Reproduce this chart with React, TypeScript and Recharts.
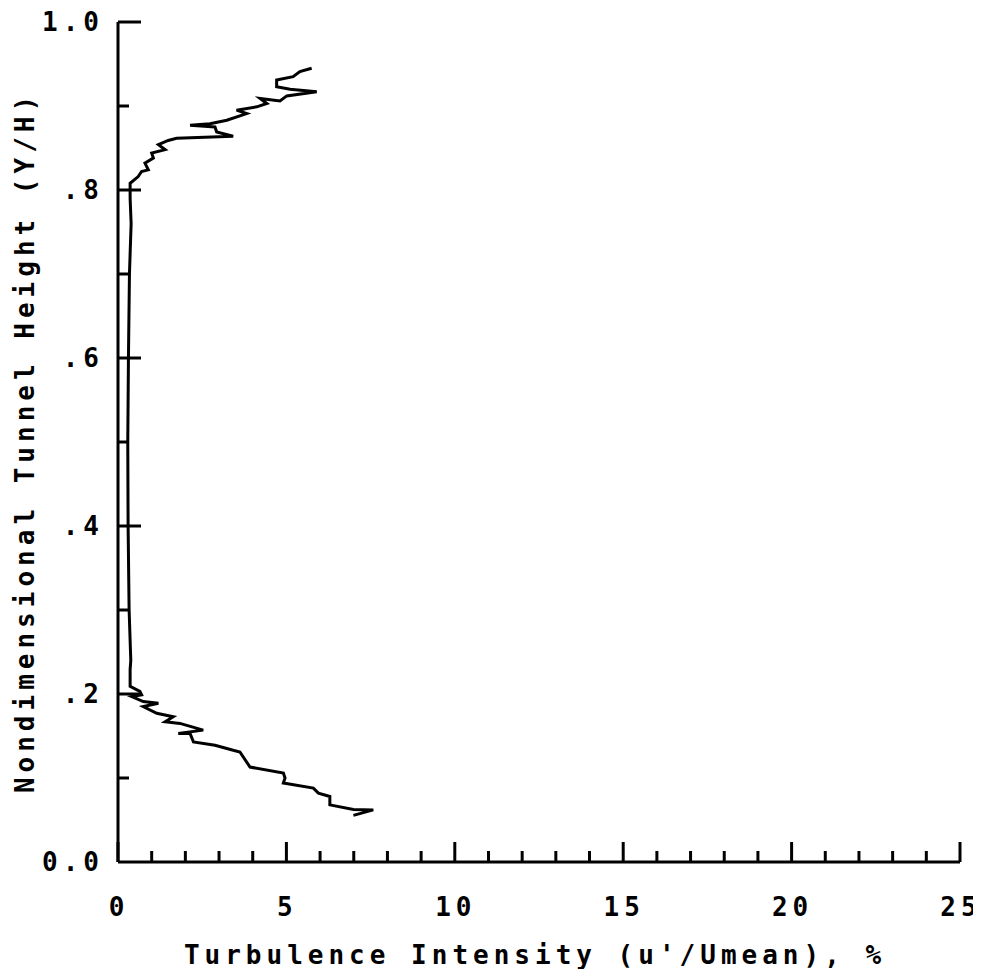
import { Label, Line, LineChart, XAxis, YAxis } from "recharts";

// turbulence intensity (%) and matching Y/H, traced from the top end down to the bottom tip
const intensity = [
  5.75, 5.4, 5.2, 4.71, 4.71, 5.11, 5.9, 5.01, 4.81, 4.22, 4.42, 4.12, 3.52, 3.82, 3.23, 2.73,
  2.14, 2.88, 2.93, 3.42, 1.74, 1.49, 1.2, 1.4, 1.0, 1.05, 0.8, 0.9, 0.7, 0.6, 0.36, 0.36,
  0.39, 0.34, 0.31, 0.29, 0.3, 0.33, 0.38,
  0.36, 0.36, 0.65, 0.7, 0.41, 0.75, 1.2, 0.75, 1.15, 1.64, 1.4, 1.84, 2.53, 1.79, 2.14, 2.24,
  2.88, 3.42, 3.62, 3.92, 4.91, 4.96, 4.91, 5.8, 5.95, 6.29, 6.29, 6.99, 7.58, 6.99,
];
const height = [
  0.945, 0.941, 0.935, 0.931, 0.923, 0.92, 0.917, 0.912, 0.906, 0.909, 0.903, 0.899, 0.895,
  0.891, 0.883, 0.879, 0.877, 0.875, 0.869, 0.864, 0.8615, 0.859, 0.854, 0.848, 0.844, 0.838,
  0.832, 0.824, 0.822, 0.816, 0.808, 0.79,
  0.76, 0.7, 0.6, 0.5, 0.4, 0.3, 0.24,
  0.229, 0.209, 0.203, 0.199, 0.197, 0.191, 0.189, 0.185, 0.177, 0.173, 0.167, 0.165, 0.157,
  0.153, 0.153, 0.143, 0.139, 0.133, 0.131, 0.113, 0.106, 0.1, 0.094, 0.088, 0.082, 0.078,
  0.068, 0.0625, 0.062, 0.0555,
];

const xTicks = [0, 1, 2, 3, 4, 5, 6, 7, 8, 9, 10, 11, 12, 13, 14, 15, 16, 17, 18, 19, 20, 21, 22, 23, 24, 25];
const xLabels: Record<number, string> = { 0: "0", 5: "5", 10: "10", 15: "15", 20: "20", 25: "25" };
const yTicks = [0, 0.1, 0.2, 0.3, 0.4, 0.5, 0.6, 0.7, 0.8, 0.9, 1.0];
const yLabels: Record<string, string> = { "0": "0.0", "0.2": ".2", "0.4": ".4", "0.6": ".6", "0.8": ".8", "1": "1.0" };

const data = intensity.map((x, i) => ({ x, y: height[i] }));

const FONT = "'DejaVu Sans Mono', monospace";
const textStyle = { fontFamily: FONT, fontWeight: 700, fontSize: 26, letterSpacing: 5, fill: "#000" };

function XTick({ x, y, payload }: any) {
  const label = xLabels[payload.value];
  const len = label !== undefined ? 20 : 11;
  return (
    <g>
      <line x1={x} y1={y} x2={x} y2={y - len} stroke="#000" strokeWidth={3} />
      {label !== undefined && (
        <text x={x + 1} y={y + 45} textAnchor="middle" dominantBaseline="central" style={textStyle}>
          {label}
        </text>
      )}
    </g>
  );
}

function YTick({ x, y, payload }: any) {
  const label = yLabels[String(Math.round(payload.value * 10) / 10)];
  const len = label !== undefined && payload.value > 0 ? 23 : payload.value > 0 ? 11 : 0;
  return (
    <g>
      {len > 0 && <line x1={x} y1={y} x2={x + len} y2={y} stroke="#000" strokeWidth={3} />}
      {label !== undefined && (
        <text x={x - 14} y={y} textAnchor="end" dominantBaseline="central" style={textStyle}>
          {label}
        </text>
      )}
    </g>
  );
}

export default function App() {
  return (
    <div style={{ background: "#fff" }}>
      <style>{"svg.recharts-surface { overflow: visible; }"}</style>
      <LineChart
        width={973}
        height={961}
        data={data}
        margin={{ top: 14, right: 21, bottom: 0, left: 0 }}
      >
        <XAxis
          dataKey="x"
          type="number"
          domain={[0, 25]}
          ticks={xTicks}
          interval={0}
          tickLine={false}
          tickSize={0}
          tickMargin={0}
          height={107}
          axisLine={{ stroke: "#000", strokeWidth: 3 }}
          tick={<XTick />}
        >
          <Label
            content={({ viewBox }: any) => (
              <text
                x={viewBox.x + viewBox.width / 2 - 4}
                y={viewBox.y + 93}
                textAnchor="middle"
                dominantBaseline="central"
                style={textStyle}
              >
                Turbulence Intensity (u'/Umean), %
              </text>
            )}
          />
        </XAxis>
        <YAxis
          type="number"
          domain={[0, 1]}
          ticks={yTicks}
          interval={0}
          tickLine={false}
          tickSize={0}
          tickMargin={0}
          width={110}
          axisLine={{ stroke: "#000", strokeWidth: 3 }}
          tick={<YTick />}
        >
          <Label
            content={({ viewBox }: any) => {
              const cx = viewBox.x + 17;
              const cy = viewBox.y + viewBox.height / 2;
              return (
                <text
                  x={cx}
                  y={cy}
                  transform={`rotate(-90 ${cx} ${cy})`}
                  textAnchor="middle"
                  dominantBaseline="central"
                  style={textStyle}
                >
                  Nondimensional Tunnel Height (Y/H)
                </text>
              );
            }}
          />
        </YAxis>
        <Line
          dataKey="y"
          type="linear"
          stroke="#000"
          strokeWidth={3}
          dot={false}
          isAnimationActive={false}
        />
      </LineChart>
    </div>
  );
}
